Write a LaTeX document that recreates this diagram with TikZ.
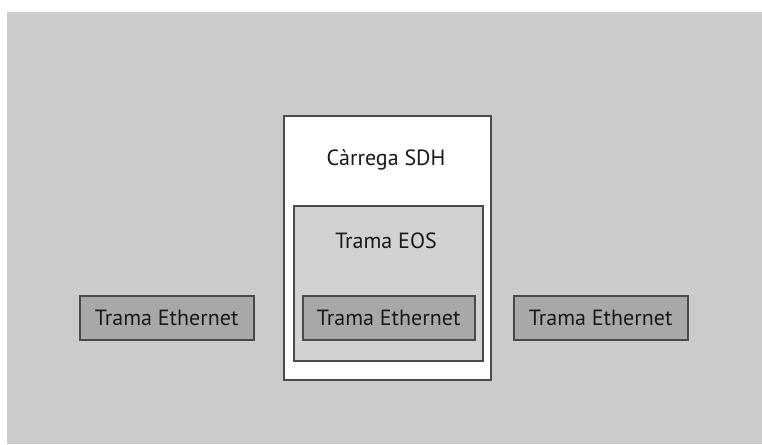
\documentclass[tikz,border=0pt]{standalone}
\usepackage{fontspec}
\setmainfont{PT Sans}
\definecolor{bggray}{HTML}{CBCBCB}
\definecolor{eosgray}{HTML}{D2D2D2}
\definecolor{ethgray}{HTML}{A8A8A8}
\definecolor{edgegray}{HTML}{4A4A4A}
\tikzset{
  framebox/.style={draw=edgegray, line width=1.5pt, inner sep=0pt, anchor=north west},
  ethbox/.style={framebox, fill=ethgray, minimum width=174pt, minimum height=44pt},
  lbl/.style={font=\fontsize{22}{24}\selectfont, text=black!90}
}
\begin{document}
\begin{tikzpicture}[x=1pt,y=-1pt]
\useasboundingbox (0,0) rectangle (762,444);
\fill[white] (0,0) rectangle (762,444);
\fill[bggray] (7,12) rectangle (762,444);
\node[framebox, fill=white, minimum width=207pt, minimum height=264pt] (sdh) at (283,115) {};
\node[lbl] (sdhlbl) at (386,160) {Càrrega SDH};
\node[framebox, fill=eosgray, minimum width=189pt, minimum height=155pt] (eos) at (293,205) {};
\node[lbl] (eoslbl) at (386,241) {Trama EOS};
\node[ethbox, minimum width=172pt] (ethc) at (302,295) {};
\node[lbl] at (ethc.center) {Trama Ethernet};
\node[ethbox] (ethl) at (79,295) {};
\node[lbl] at (ethl.center) {Trama Ethernet};
\node[ethbox] (ethr) at (513,295) {};
\node[lbl] at (ethr.center) {Trama Ethernet};
\end{tikzpicture}
\end{document}
